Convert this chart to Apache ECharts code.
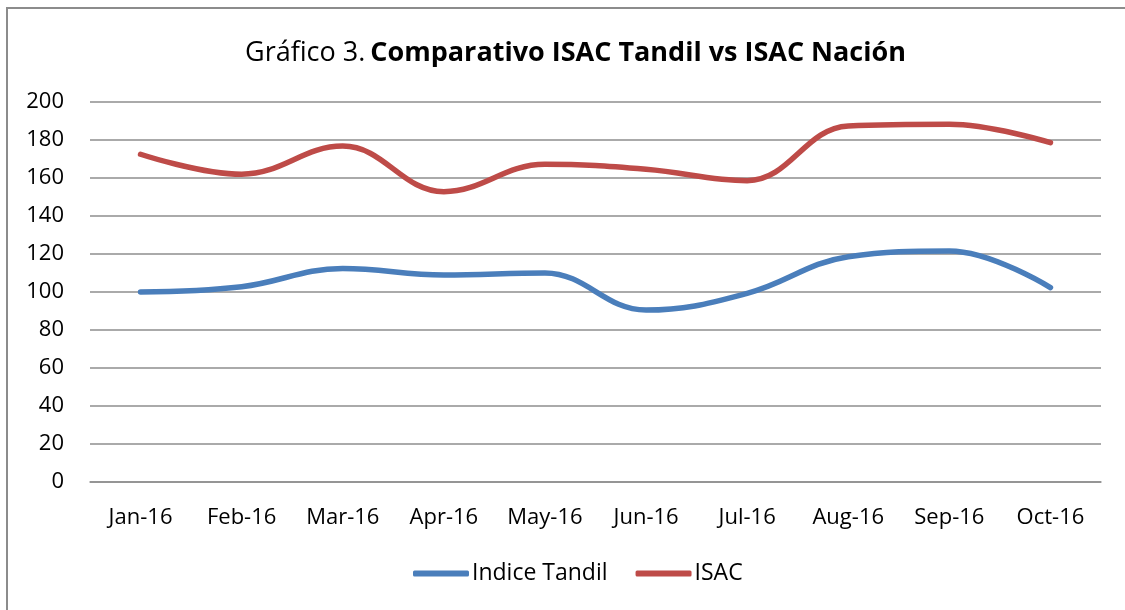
<!DOCTYPE html>
<html>
<head>
<meta charset="utf-8">
<script src="https://cdn.jsdelivr.net/npm/echarts@6/dist/echarts.min.js"></script>
<style>
  html, body { margin: 0; padding: 0; background: #fff; }
  #chart { width: 1125px; height: 610px; }
</style>
</head>
<body>
<div id="chart"></div>
<script>
// Comparativo ISAC Tandil vs ISAC Nación
var months = ['Jan-16', 'Feb-16', 'Mar-16', 'Apr-16', 'May-16', 'Jun-16', 'Jul-16', 'Aug-16', 'Sep-16', 'Oct-16'];
var legendNames = ['Indice Tandil', 'ISAC'];
var tandil = [100, 102.8, 112.4, 109, 110, 90.5, 99.3, 118.6, 121.6, 102.3];
var isac = [172.5, 162, 176.8, 152.8, 167.2, 164.6, 158.6, 187.4, 188.3, 178.6];
var yTicks = [0, 20, 40, 60, 80, 100, 120, 140, 160, 180, 200];

var colors = ['#4A7EBB', '#BE4B48'];
var font = 'Open Sans';

var myChart = echarts.init(document.getElementById('chart'));

var option = {
    backgroundColor: '#fff',
    color: colors,
    animation: false,
    title: {
        text: '{r|Gráfico 3.} {b|Comparativo ISAC Tandil vs ISAC Nación}',
        left: 240,
        top: 35,
        textStyle: {
            rich: {
                r: { fontFamily: font, fontSize: 27, color: '#000', fontWeight: 'normal' },
                b: { fontFamily: font, fontSize: 27, color: '#000', fontWeight: 'bold' }
            }
        }
    },
    legend: {
        data: legendNames,
        bottom: 20,
        left: 408,
        icon: 'roundRect',
        itemWidth: 56,
        itemHeight: 6,
        itemGap: 28,
        textStyle: { fontFamily: font, fontSize: 23, color: '#000', padding: [0, 0, 0, -2] }
    },
    grid: { left: 90, right: 24, top: 102, bottom: 128, containLabel: false },
    graphic: [{
        type: 'rect',
        shape: { x: 7, y: 8, width: 1140, height: 640 },
        style: { fill: 'none', stroke: '#8c8c8c', lineWidth: 2 },
        silent: true
    }],
    xAxis: {
        type: 'category',
        data: months,
        boundaryGap: true,
        axisLine: { show: true, lineStyle: { color: '#8e8e8e', width: 1.5 } },
        axisTick: { show: false },
        axisLabel: { interval: 0, margin: 25, fontFamily: font, fontSize: 22, color: '#000' },
        splitLine: { show: false }
    },
    yAxis: {
        type: 'value',
        min: yTicks[0],
        max: yTicks[yTicks.length - 1],
        interval: 20,
        axisLine: { show: false },
        axisTick: { show: false },
        axisLabel: { margin: 26, fontFamily: font, fontSize: 22, color: '#000' },
        splitLine: { show: true, lineStyle: { color: '#8e8e8e', width: 1.5 } }
    },
    series: [
        {
            name: legendNames[0],
            type: 'line',
            data: tandil,
            smooth: 0.4,
            showSymbol: false,
            symbol: 'none',
            lineStyle: { width: 5.5, color: colors[0], cap: 'round' }
        },
        {
            name: legendNames[1],
            type: 'line',
            data: isac,
            smooth: 0.4,
            showSymbol: false,
            symbol: 'none',
            lineStyle: { width: 5.5, color: colors[1], cap: 'round' }
        }
    ]
};

myChart.setOption(option);
</script>
</body>
</html>
